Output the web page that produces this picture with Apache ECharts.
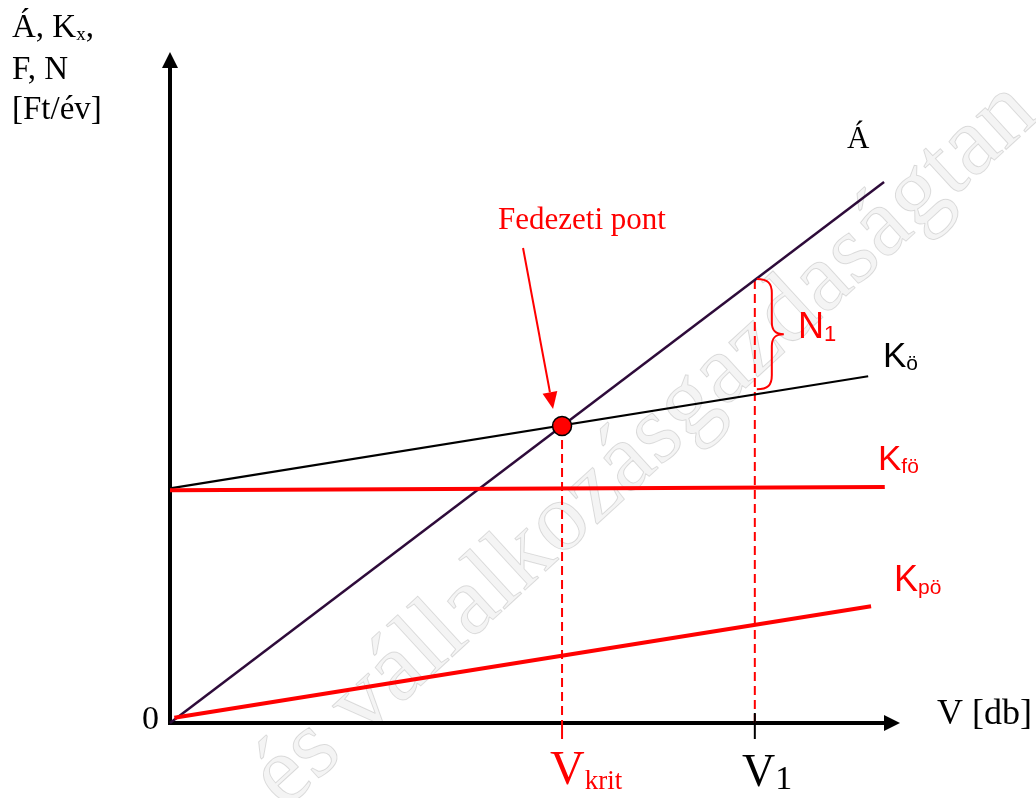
<!DOCTYPE html>
<html><head><meta charset="utf-8">
<script src="https://cdn.jsdelivr.net/npm/echarts@6/dist/echarts.min.js"></script>
<style>html,body{margin:0;padding:0;background:#fff}#c{width:1036px;height:798px}</style>
</head><body><div id="c"></div>
<script>
// ---- data (arbitrary units, axes 0..100) ----
const revenueLine = [[0, 0], [98.9, 81.6]];          // Á
const totalCostLine = [[0, 35.4], [96.7, 52.3]];     // Kö
const fixedCostLine = [[0, 35.1], [99.0, 35.6]];     // Kfö
const variableCostLine = [[0.6, 0.8], [97.1, 17.6]]; // Kpö
const vKrit = 54.3;
const breakEvenValue = 44.8;
const v1 = 81.0;
const v1Revenue = 66.8;
const v1TotalCost = 49.6;
const tickLabels = ['Vkrit', 'V1'];

const SERIF = '"Liberation Serif", "Times New Roman", serif';
const SANS = '"Liberation Sans", Arial, sans-serif';
const RED = '#ff0000';
const PURPLE = '#2e0b3a';

function plainText(x, y, text, size, color, family) {
  return { type: 'text', x: x, y: y, silent: true,
    style: { text: text, fill: color, fontSize: size, fontFamily: family, textAlign: 'left', textVerticalAlign: 'middle' } };
}
function subText(x, y, main, sub, color, family, M, S, d, tail) {
  const t = '{m|' + main + '}{s|' + sub + '}' + (tail ? '{m|' + tail + '}' : '');
  return { type: 'text', x: x, y: y, silent: true,
    style: { text: t, fill: color, textAlign: 'left', textVerticalAlign: 'middle',
      rich: {
        m: { fontSize: M, lineHeight: M, fontFamily: family, fill: color },
        s: { fontSize: S, lineHeight: M - 2 * d, fontFamily: family, fill: color, verticalAlign: 'bottom' }
      } } };
}

const chart = echarts.init(document.getElementById('c'), null, { renderer: 'canvas' });

const axisCommon = {
  type: 'value', min: 0, max: 100,
  axisLine: { show: true, symbol: ['none', 'triangle'], symbolSize: [16, 16],
    lineStyle: { color: '#000', width: 4, cap: 'square' } },
  axisTick: { show: false }, axisLabel: { show: false }, splitLine: { show: false }
};

const graphicEls = [
  { type: 'text', x: 300, y: 828, rotation: 42.5 * Math.PI / 180, silent: true, z: -10,
    style: { text: 'és vállalkozásgazdaságtan', fontSize: 98, fontFamily: SERIF,
      fill: 'rgba(0,0,0,0.045)', stroke: 'rgba(0,0,0,0.13)', lineWidth: 1,
      textAlign: 'left', textVerticalAlign: 'bottom' } },
  subText(12, 28, 'Á, K', 'x', '#000', SERIF, 33, 19, 12, ','),
  plainText(12, 70, 'F, N', 33, '#000', SERIF),
  plainText(12, 110, '[Ft/év]', 33, '#000', SERIF),
  plainText(847, 140, 'Á', 31, '#000', SERIF),
  plainText(142, 720, '0', 34, '#000', SERIF),
  plainText(937, 715, 'V [db]', 36, '#000', SERIF),
  plainText(498, 221, 'Fedezeti pont', 31, RED, SERIF),
  subText(550, 771, 'V', 'krit', RED, SERIF, 48, 27, 12.4),
  subText(742, 774, 'V', '1', '#000', SERIF, 46, 34, 8.5),
  subText(883, 357, 'K', 'ö', '#000', SANS, 35, 21, 11.5),
  subText(878, 460, 'K', 'fö', RED, SANS, 35, 21, 11),
  subText(894, 581, 'K', 'pö', RED, SANS, 36, 21, 8.5),
  subText(798, 328, 'N', '1', RED, SANS, 36, 22, 8)
];

const option = {
  animation: false,
  backgroundColor: '#fff',
  grid: { left: 170, right: 144, top: 60, bottom: 75, containLabel: false },
  xAxis: axisCommon,
  yAxis: axisCommon,
  graphic: { elements: graphicEls },
  series: [
    { type: 'line', name: 'guide Vkrit', data: [[vKrit, breakEvenValue], [vKrit, 0]], symbol: 'none', silent: true, z: 2,
      lineStyle: { color: RED, width: 2, type: [9, 5] } },
    { type: 'line', name: 'guide V1', data: [[v1, v1Revenue], [v1, 0]], symbol: 'none', silent: true, z: 2,
      lineStyle: { color: RED, width: 2, type: [9, 5] } },
    { type: 'line', name: 'Á', data: revenueLine, symbol: 'none', silent: true, z: 3,
      lineStyle: { color: PURPLE, width: 2.5 } },
    { type: 'line', name: 'Kö', data: totalCostLine, symbol: 'none', silent: true, z: 3,
      lineStyle: { color: '#000', width: 2.2 } },
    { type: 'line', name: 'Kfö', data: fixedCostLine, symbol: 'none', silent: true, z: 4,
      lineStyle: { color: RED, width: 4 } },
    { type: 'line', name: 'Kpö', data: variableCostLine, symbol: 'none', silent: true, z: 4,
      lineStyle: { color: RED, width: 4 } },
    { type: 'custom', name: 'ticks', silent: true, z: 6,
      data: [[vKrit, 0, 0], [v1, 0, 1]],
      renderItem: function (params, api) {
        const p = api.coord([api.value(0), 0]);
        const isV1 = api.value(2) === 1;
        return { type: 'line', shape: { x1: p[0], y1: isV1 ? p[1] - 10 : p[1], x2: p[0], y2: p[1] + 16 },
          style: { stroke: isV1 ? '#000' : RED, lineWidth: 2 } };
      } },
    { type: 'custom', name: 'brace N1', silent: true, z: 6,
      data: [[v1, v1Revenue, v1TotalCost]],
      renderItem: function (params, api) {
        const top = api.coord([api.value(0), api.value(1)]);
        const bot = api.coord([api.value(0), api.value(2)]);
        const x0 = top[0] + 2, yT = top[1] - 1, yB = bot[1] - 5, ym = (yT + yB) / 2;
        const s = x0 + 15, tip = x0 + 27;
        const d = 'M' + x0 + ',' + yT +
          ' C' + (x0 + 11) + ',' + yT + ' ' + s + ',' + (yT + 4) + ' ' + s + ',' + (yT + 14) +
          ' L' + s + ',' + (ym - 12) +
          ' C' + s + ',' + (ym - 3) + ' ' + (s + 4) + ',' + ym + ' ' + tip + ',' + ym +
          ' C' + (s + 4) + ',' + ym + ' ' + s + ',' + (ym + 3) + ' ' + s + ',' + (ym + 12) +
          ' L' + s + ',' + (yB - 14) +
          ' C' + s + ',' + (yB - 4) + ' ' + (x0 + 11) + ',' + yB + ' ' + x0 + ',' + yB;
        return { type: 'path', shape: { pathData: d },
          style: { stroke: RED, lineWidth: 2, fill: null } };
      } },
    { type: 'custom', name: 'arrow', silent: true, z: 7,
      data: [[vKrit, breakEvenValue]],
      renderItem: function (params, api) {
        const p = api.coord([api.value(0), api.value(1)]);
        const tx = p[0] - 9, ty = p[1] - 17;
        const sx = p[0] - 39, sy = p[1] - 178;
        const dx = tx - sx, dy = ty - sy, L = Math.sqrt(dx * dx + dy * dy);
        const ux = dx / L, uy = dy / L, hl = 17, hw = 7.5;
        const bx = tx - ux * hl, by = ty - uy * hl;
        return { type: 'group', children: [
          { type: 'line', shape: { x1: sx, y1: sy, x2: bx, y2: by }, style: { stroke: RED, lineWidth: 2 } },
          { type: 'polygon', shape: { points: [[tx, ty], [bx - uy * hw, by + ux * hw], [bx + uy * hw, by - ux * hw]] },
            style: { fill: RED } }
        ] };
      } },
    { type: 'scatter', name: 'Fedezeti pont', data: [[vKrit, breakEvenValue]], symbolSize: 19, silent: true, z: 10,
      itemStyle: { color: RED, borderColor: '#000', borderWidth: 1.5, opacity: 1 } }
  ]
};
chart.setOption(option);
</script></body></html>
